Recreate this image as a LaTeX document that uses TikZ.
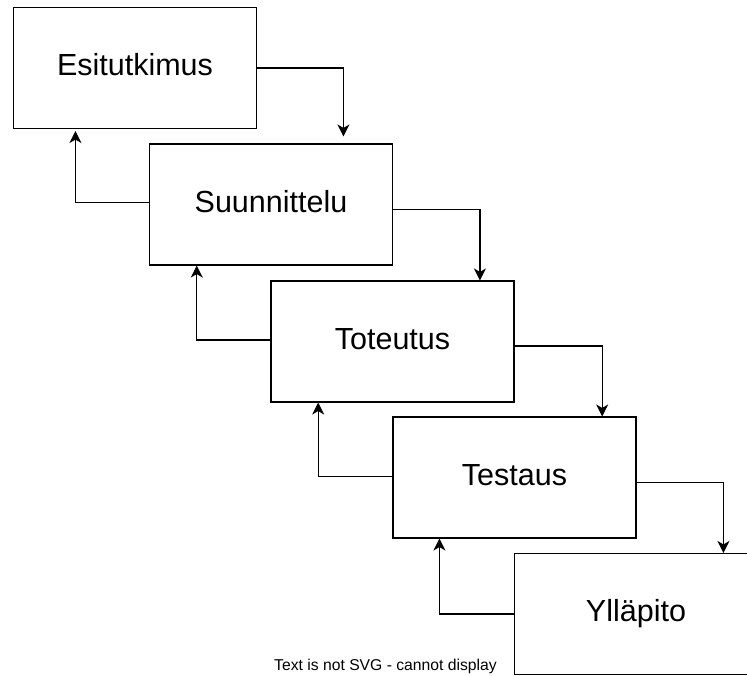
\documentclass[tikz,border=0pt]{standalone}
\usepackage{fontspec}
\setmainfont{Liberation Sans}
\usetikzlibrary{arrows.meta}
\begin{document}
\begin{tikzpicture}[x=1pt,y=-1pt,
  stage/.style={draw, line width=1.1pt, minimum width=243pt, minimum height=121pt,
    inner sep=0pt, font=\fontsize{30.5}{36}\selectfont, text height=21pt, text depth=5.2pt},
  flow/.style={draw, line width=1.1pt, -{Stealth[length=12pt 0 0,width=12pt 0 0,inset=3.5pt 0 0]}},
  notetext/.style={font=\fontsize{15.7}{18}\selectfont, anchor=base, inner sep=0pt}]
\useasboundingbox (0,0) rectangle (747,675);
\clip (0,0) rectangle (747,675);
\node[stage] (b1) at (135,68) {Esitutkimus};
\node[stage] (b2) at (271,204.5) {Suunnittelu};
\node[stage] (b3) at (392.5,341.5) {Toteutus};
\node[stage] (b4) at (514.5,477.5) {Testaus};
\node[stage] (b5) at (636,614) {Ylläpito};
% forward arrows
\draw[flow] (b1.east) -| ([xshift=194.5pt,yshift=7pt]b2.north west);
\draw[flow] ([yshift=-5pt]b2.east) -| ([xshift=209.5pt]b3.north west);
\draw[flow] ([yshift=-4.5pt]b3.east) -| ([xshift=209.7pt]b4.north west);
\draw[flow] ([yshift=-5pt]b4.east) -| ([xshift=209.5pt]b5.north west);
% back arrows
\draw[flow] ([yshift=2pt]b2.west) -| ([xshift=62.5pt,yshift=-2pt]b1.south west);
\draw[flow] ([yshift=1.5pt]b3.west) -| ([xshift=47.8pt]b2.south west);
\draw[flow] ([yshift=1pt]b4.west) -| ([xshift=47.7pt]b3.south west);
\draw[flow] (b5.west) -| ([xshift=47pt]b4.south west);
\node[notetext] (note) at (385.5,670) {Text is not SVG - cannot display};
\end{tikzpicture}
\end{document}
